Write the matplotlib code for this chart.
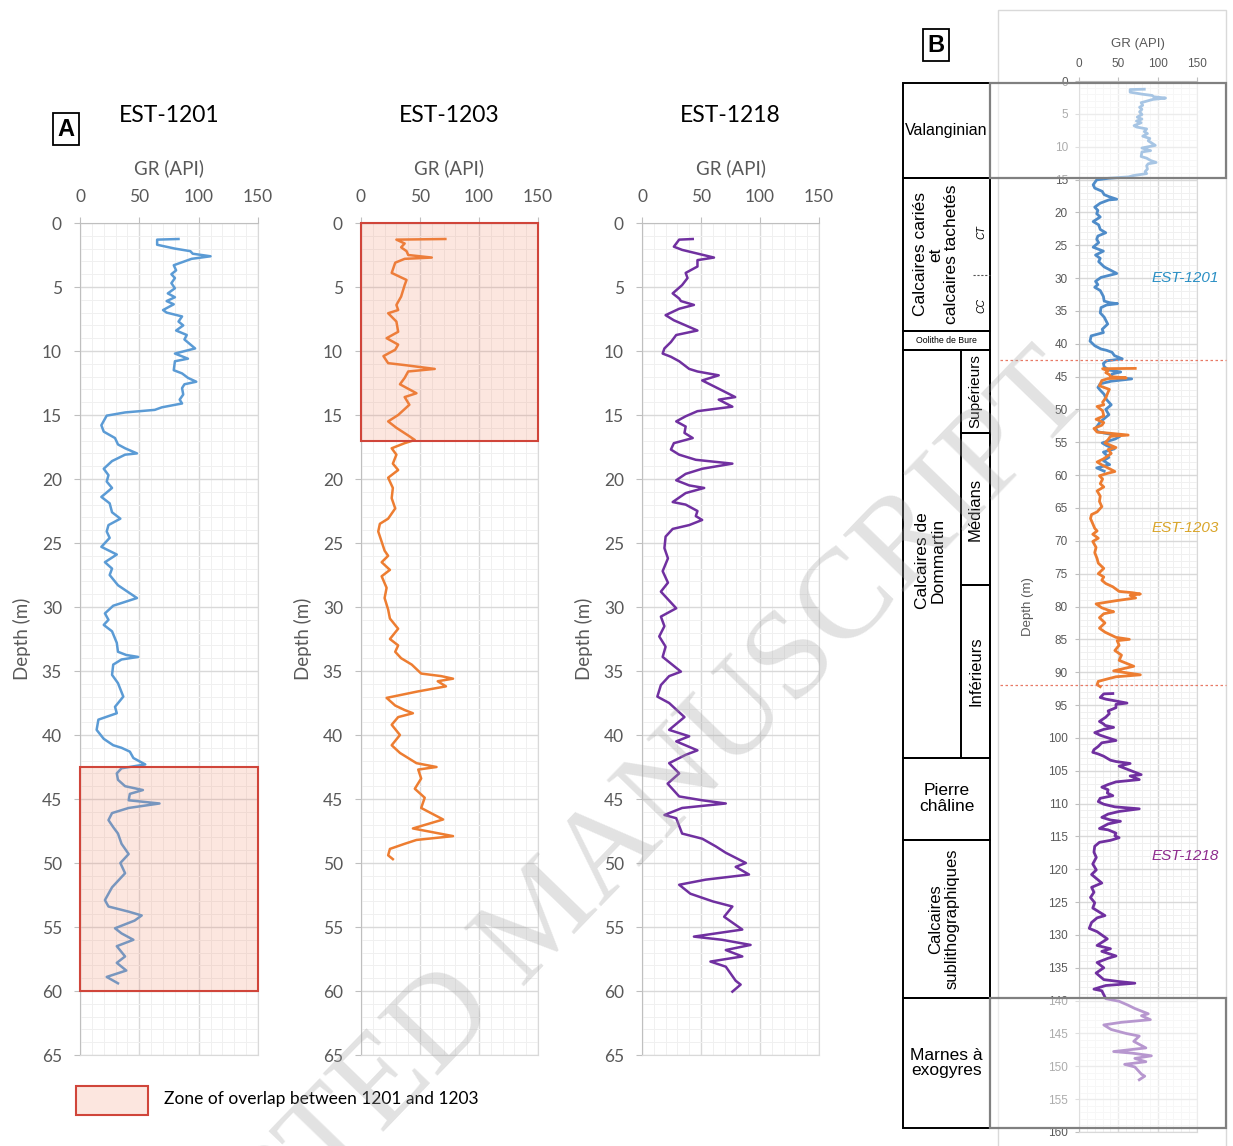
import numpy as np
import matplotlib
matplotlib.use("Agg")
import matplotlib.pyplot as plt
from matplotlib.patches import Rectangle
from matplotlib.transforms import blended_transform_factory

# ---------------------------------------------------------------- data
# EST-1201 gamma-ray log
depth_1201 = [1.25, 1.3, 1.7, 2.0, 2.2, 2.4, 2.6, 2.8, 3.3, 3.7, 4.0, 4.3, 4.7, 5.1,
              5.5, 5.8, 6.1, 6.35, 6.8, 7.0, 7.3, 7.7, 8.0, 8.4, 8.75, 9.1, 9.8, 10.2,
              10.6, 10.8, 11.5, 11.75, 12.1, 12.4, 12.6, 12.9, 13.4, 13.8, 14.1, 14.4,
              14.6, 14.8, 15.05, 15.8, 16.3, 16.8, 17.3, 17.6, 18.0, 18.1, 18.6, 19.2,
              19.7, 20.2, 20.7, 21.4, 21.9, 22.6, 23.1, 23.6, 24.1, 24.6, 25.3, 25.9,
              26.5, 27.0, 27.5, 28.3, 29.3, 29.9, 30.5, 31.0, 31.4, 31.9, 32.8, 33.5,
              33.75, 33.9, 34.1, 34.5, 35.3, 35.95, 37.0, 37.8, 38.3, 38.8, 39.6, 40.3,
              40.8, 41.0, 41.3, 41.8, 42.3, 42.6, 43.0, 43.5, 44.0, 44.3, 44.6, 45.1,
              45.35, 45.7, 46.1, 46.65, 47.2, 47.7, 48.5, 49.3, 50.0, 50.8, 51.9, 52.9,
              53.4, 53.8, 54.1, 54.5, 55.1, 55.5, 56.0, 56.5, 57.3, 57.8, 58.4, 58.9, 59.4]
gr_1201 = [83, 65, 65, 80, 93, 95, 110, 94, 79, 81, 77, 80, 77, 80,
           74, 80, 73, 79, 70, 73, 86, 83, 87, 81, 90, 88, 97, 80,
           91, 80, 79, 86, 91, 98, 88, 86, 87, 84, 86, 69,
           63, 38, 22.5, 18, 20, 29.5, 32, 38, 48, 38, 27, 20,
           24, 22.5, 27, 18, 25, 27, 34, 24, 22.5, 25, 18, 31,
           21, 27, 25, 32, 48, 28, 21, 24, 20, 27, 31, 32,
           39, 49, 35, 28, 27, 32, 36.5, 29.5, 31, 15.5, 14, 20,
           28, 35, 42, 45, 55, 35, 31, 32, 38, 53, 42, 41,
           67, 41, 27, 24, 28, 32, 35, 41, 34, 38, 27, 21,
           24, 41, 52, 46, 29.5, 35, 45, 31, 38, 31, 39, 22.5, 32]

# EST-1203 gamma-ray log
depth_1203 = [1.25, 1.3, 1.6, 1.9, 2.2, 2.5, 2.7, 2.8, 3.1, 3.9, 4.45, 4.85, 5.75, 6.4,
              6.8, 7.05, 7.7, 8.5, 9.0, 9.5, 9.9, 10.4, 10.95, 11.1, 11.4, 11.6, 12.1,
              12.6, 13.3, 13.6, 14.2, 15.0, 15.5, 16.0, 16.6, 16.95, 17.2, 17.6, 18.1,
              18.8, 19.3, 19.9, 20.7, 21.5, 22.3, 23.1, 23.5, 24.1, 24.9, 25.6, 26.0,
              26.5, 27.1, 27.6, 28.5, 29.3, 30.2, 30.9, 31.7, 32.5, 33.0, 33.5, 34.0,
              34.5, 35.2, 35.4, 35.6, 35.8, 36.2, 36.6, 37.1, 37.7, 38.05, 38.3, 38.6,
              39.2, 40.0, 40.8, 41.4, 42.2, 42.5, 42.7, 43.4, 44.2, 44.9, 45.7, 46.6,
              47.3, 47.9, 48.2, 48.5, 48.9, 49.4, 49.7]
gr_1203 = [71.5, 30, 37, 34, 38.6, 40, 60, 37, 29, 26, 38.6, 37, 34, 30,
           31.5, 23, 30, 31.5, 21.7, 31.5, 29, 19, 23, 37, 62.5, 40, 37,
           33, 47, 37, 41, 31.5, 23, 30, 40, 45.6, 37, 26, 30,
           27, 31.5, 23, 27, 26, 29, 23, 16, 14.6, 17.5, 20, 23,
           17.5, 24.5, 17.5, 21.7, 20, 23, 24.5, 31.5, 24.5, 31.5, 29, 34,
           43, 51, 68, 78, 65, 72, 48, 21.7, 29, 37, 44, 31.5,
           26, 33, 26, 33, 47, 64, 48.5, 51, 45.6, 54, 51, 69.6,
           44, 78, 47, 37, 24.5, 23, 27]

# EST-1218 gamma-ray log
depth_1218 = [1.25, 1.3, 1.85, 2.1, 2.7, 2.9, 3.4, 3.9, 4.3, 4.85, 5.5, 5.9, 6.1, 6.4,
              6.7, 7.2, 7.6, 8.0, 8.4, 8.75, 9.3, 9.8, 10.2, 10.45, 10.8, 11.4, 11.6,
              11.9, 12.3, 12.9, 13.6, 13.8, 14.35, 14.7, 15.1, 15.5, 15.9, 16.4, 16.8,
              17.2, 17.7, 18.1, 18.5, 18.8, 19.2, 19.6, 20.1, 20.5, 20.7, 21.1, 21.8,
              22.0, 22.5, 22.9, 23.2, 23.6, 23.9, 24.5, 25.4, 26.2, 27.2, 28.1, 28.8,
              29.8, 30.1, 30.75, 31.5, 32.3, 33.1, 33.9, 35.05, 35.4, 36.1, 37.0, 37.5,
              38.6, 39.6, 40.1, 40.5, 41.2, 41.55, 42.2, 43.0, 43.8, 44.8, 45.1, 45.35,
              45.7, 46.25, 46.5, 47.7, 48.1, 48.7, 49.2, 50.0, 50.3, 50.9, 51.3, 51.7,
              52.4, 53.0, 53.4, 54.2, 55.2, 55.75, 56.0, 56.4, 56.8, 57.3, 57.7, 58.1,
              59.2, 59.5, 60.05]
gr_1218 = [43, 31.5, 27, 34, 61, 47, 47, 37, 38.6, 34, 26, 31.5, 33, 44,
           31.5, 20, 27, 37, 47, 29, 24.5, 19, 17.5, 24.5, 31.5, 40, 47,
           65, 51, 64, 79, 65, 76.6, 47, 37, 29, 37, 36, 43,
           27, 24.5, 31.5, 45.6, 76.6, 51, 37, 29, 40, 52.7, 37, 26,
           37, 47, 45.6, 51, 40, 26, 20, 19, 22, 17.5, 22, 16,
           26, 29, 16, 19, 14.6, 20, 17.5, 33, 23, 16, 13, 23,
           36, 23, 40, 29, 47, 37, 23, 31.5, 21.7, 31.5, 51, 71,
           34, 19, 29, 34, 51, 62.5, 71, 88, 79.4, 90.7, 54, 31.5,
           41, 60, 76.6, 69.6, 85, 44, 68, 92, 71, 85, 58, 71,
           79.4, 83.6, 76.6]

well_names = ["EST-1201", "EST-1203", "EST-1218"]
overlap_1201 = (42.5, 60.0)   # depth interval of EST-1201 shared with EST-1203
overlap_1203 = (0.0, 17.0)    # same interval in EST-1203 depths
offset_1203 = 42.5            # EST-1203 depth shift in the composite log
offset_1218 = 92.0            # EST-1218 depth shift in the composite log
splice_depths = [42.5, 92.0]

gr_ticks = [0, 50, 100, 150]
depth_ticks_a = list(range(0, 66, 5))
depth_ticks_b = list(range(0, 161, 5))

# lithostratigraphic units of the composite log (top, base, label)
units = [
    (0.3, 14.8, "Valanginian"),
    (14.8, 38.0, "Calcaires cariés\net\ncalcaires tachetés"),
    (38.0, 40.9, "Oolithe de Bure"),
    (40.9, 103.0, "Calcaires de\nDommartin"),
    (103.0, 115.5, "Pierre\nchâline"),
    (115.5, 139.6, "Calcaires\nsublithographiques"),
    (139.6, 159.4, "Marnes à\nexogyres"),
]
dommartin_members = [(40.9, 53.6, "Supérieurs"), (53.6, 76.7, "Médians"),
                     (76.7, 103.0, "Inférieurs")]
ct_cc_limit = 29.5
faded_intervals = [(0.3, 14.8), (139.6, 159.4)]

# ---------------------------------------------------------------- style
C_BLUE, C_ORANGE, C_PURPLE = "#5b9bd5", "#ed7d31", "#7030a0"
C_BLUE_B = "#4f8cc9"
TXT = "#595959"
FONT_A = "Lato"
FONT_B = "Liberation Sans"

W, H = 1233, 1146
fig = plt.figure(figsize=(W / 100, H / 100), dpi=100)
fig.patch.set_facecolor("white")


def fbox(x0, y0, x1, y1):
    return [x0 / W, 1 - y1 / H, (x1 - x0) / W, (y1 - y0) / H]


def style_grid(ax, ymax, ticks_y, labelsize, family, pad):
    ax.set_xlim(0, 150)
    ax.set_ylim(ymax, 0)
    ax.xaxis.tick_top()
    ax.xaxis.set_label_position("top")
    ax.set_xticks(gr_ticks)
    ax.set_yticks(ticks_y)
    ax.set_xticks(np.arange(0, 151, 10), minor=True)
    ax.set_yticks(np.arange(0, ymax + 1, 1), minor=True)
    ax.grid(which="major", color="#d9d9d9", lw=1.0)
    ax.grid(which="minor", color="#f0f0f0", lw=0.7)
    ax.set_axisbelow(True)
    ax.tick_params(which="major", length=4, color="#bfbfbf", labelsize=labelsize,
                   labelcolor=TXT, pad=pad)
    ax.tick_params(which="minor", length=0)
    for lab in ax.get_xticklabels() + ax.get_yticklabels():
        lab.set_family(family)
    for s in ax.spines.values():
        s.set_color("#d9d9d9")
    ax.spines["left"].set_color("#bfbfbf")
    ax.spines["top"].set_color("#bfbfbf")


# ---------------------------------------------------------------- panel A
panel_a = [
    ((80, 223, 258, 1055), depth_1201, gr_1201, C_BLUE, overlap_1201),
    ((361, 223, 538, 1055), depth_1203, gr_1203, C_ORANGE, overlap_1203),
    ((642, 223, 819, 1055), depth_1218, gr_1218, C_PURPLE, None),
]
for (box, dep, gr, col, zone), name in zip(panel_a, well_names):
    ax = fig.add_axes(fbox(*box))
    style_grid(ax, 65, depth_ticks_a, 12.5, FONT_A, 9)
    ax.plot(gr, dep, color=col, lw=1.8, zorder=3)
    if zone is not None:
        ax.add_patch(Rectangle((0, zone[0]), 150, zone[1] - zone[0],
                               facecolor=(0.94, 0.51, 0.39, 0.2),
                               edgecolor="#d0453a", lw=1.5, zorder=4, clip_on=False))
    ax.set_xlabel("GR (API)", fontsize=13.5, color=TXT, family=FONT_A, labelpad=11)
    ax.set_ylabel("Depth (m)", fontsize=13.5, color=TXT, family=FONT_A, labelpad=8)
    ax.text(0.5, 1 + 108 / 832, name, transform=ax.transAxes, ha="center",
            va="center", fontsize=16.5, family=FONT_A, color="black")

fig.text(66 / W, 1 - 129 / H, "A", ha="center", va="center", fontsize=17,
         weight="bold", family=FONT_B,
         bbox=dict(boxstyle="square,pad=0.18", fc="white", ec="black", lw=1.3))

# legend of the overlap zone
fig.add_artist(Rectangle((76 / W, 1 - 1115 / H), 72 / W, 29 / H,
                         transform=fig.transFigure,
                         facecolor=(0.94, 0.51, 0.39, 0.2), edgecolor="#d0453a", lw=1.5))
fig.text(164 / W, 1 - 1099 / H, "Zone of overlap between 1201 and 1203",
         ha="left", va="center", fontsize=12.5, family=FONT_A, color="black")

# ---------------------------------------------------------------- panel B
fig.add_artist(Rectangle((998 / W, 1 - 1150 / H), 228 / W, 1140 / H,
                         transform=fig.transFigure, facecolor="none",
                         edgecolor="#d9d9d9", lw=1.0))

axb = fig.add_axes(fbox(1079, 81, 1197, 1132))
style_grid(axb, 160, depth_ticks_b, 8.5, FONT_B, 5)
axb.tick_params(which="major", length=3)
axb.plot(gr_1201, depth_1201, color=C_BLUE_B, lw=2.0, zorder=3)
axb.plot(gr_1203, np.array(depth_1203) + offset_1203, color=C_ORANGE, lw=2.0, zorder=4)
axb.plot(gr_1218, np.array(depth_1218) + offset_1218, color=C_PURPLE, lw=2.0, zorder=5)
axb.set_xlabel("GR (API)", fontsize=9.5, color=TXT, family=FONT_B, labelpad=8)
axb.set_ylabel("Depth (m)", fontsize=9.5, color=TXT, family=FONT_B, labelpad=10)

axb.text(135, 30.0, "EST-1201", ha="center", va="center", fontsize=11, style="italic",
         color="#2a8fc4", family=FONT_B, clip_on=False, zorder=6)
axb.text(135, 68.0, "EST-1203", ha="center", va="center", fontsize=11, style="italic",
         color="#d9a52a", family=FONT_B, clip_on=False, zorder=6)
axb.text(135, 118.0, "EST-1218", ha="center", va="center", fontsize=11, style="italic",
         color="#8e2c8e", family=FONT_B, clip_on=False, zorder=6)

tb = blended_transform_factory(fig.transFigure, axb.transData)
for dsp in splice_depths:
    fig.add_artist(plt.Line2D([1000 / W, 1226 / W], [dsp, dsp], transform=tb,
                              color="#e87a66", lw=0.9, ls=(0, (2, 2)), zorder=6))
for top, base in faded_intervals:
    fig.add_artist(Rectangle((990 / W, top), 236 / W, base - top, transform=tb,
                             facecolor=(1, 1, 1, 0.5), edgecolor="#808080",
                             lw=1.6, zorder=7))

# lithostratigraphic column
axs = fig.add_axes(fbox(903, 81, 990, 1132))
axs.set_xlim(0, 1)
axs.set_ylim(160, 0)
axs.axis("off")
for top, base, label in units:
    axs.add_patch(Rectangle((0, top), 1, base - top, facecolor="none",
                            edgecolor="black", lw=1.4, clip_on=False))
sub_x = 0.667
for top, base, label in dommartin_members:
    axs.add_patch(Rectangle((sub_x, top), 1 - sub_x, base - top, facecolor="none",
                            edgecolor="black", lw=1.4, clip_on=False))
    axs.text((1 + sub_x) / 2, (top + base) / 2, label, rotation=90, ha="center",
             va="center", fontsize=12 if label != "Supérieurs" else 11,
             family=FONT_B)

unit_style = {
    "Valanginian": dict(x=0.5, rotation=0, fontsize=11.5),
    "Calcaires cariés\net\ncalcaires tachetés": dict(x=0.38, rotation=90, fontsize=12.5),
    "Oolithe de Bure": dict(x=0.5, rotation=0, fontsize=6.3),
    "Calcaires de\nDommartin": dict(x=0.31, rotation=90, fontsize=12.5),
    "Pierre\nchâline": dict(x=0.5, rotation=0, fontsize=12.5),
    "Calcaires\nsublithographiques": dict(x=0.47, rotation=90, fontsize=12),
    "Marnes à\nexogyres": dict(x=0.5, rotation=0, fontsize=12.5),
}
for top, base, label in units:
    st = unit_style[label]
    ymid = (top + base) / 2
    if label.startswith("Calcaires de"):
        ymid = 73.0
    axs.text(st["x"], ymid, label, rotation=st["rotation"], ha="center", va="center",
             fontsize=st["fontsize"], family=FONT_B, linespacing=1.05)

axs.text(0.9, 23.0, "CT", rotation=90, ha="center", va="center", fontsize=7.5,
         style="italic", family=FONT_B)
axs.text(0.9, 34.2, "CC", rotation=90, ha="center", va="center", fontsize=7.5,
         style="italic", family=FONT_B)
axs.plot([0.8, 1.0], [ct_cc_limit, ct_cc_limit], color="#555555", lw=0.8,
         ls=(0, (2, 1.5)), clip_on=False)

fig.text(936 / W, 1 - 45 / H, "B", ha="center", va="center", fontsize=17,
         weight="bold", family=FONT_B,
         bbox=dict(boxstyle="square,pad=0.18", fc="white", ec="black", lw=1.3))

# manuscript stamp
fig.text(545 / W, 1 - 920 / H, "ACCEPTED MANUSCRIPT", rotation=46,
         rotation_mode="anchor", ha="center", va="center", fontsize=92,
         family="Liberation Serif", color="#a0a0a0", alpha=0.3, zorder=20)

fig.savefig("out.png", dpi=100, facecolor="white")
